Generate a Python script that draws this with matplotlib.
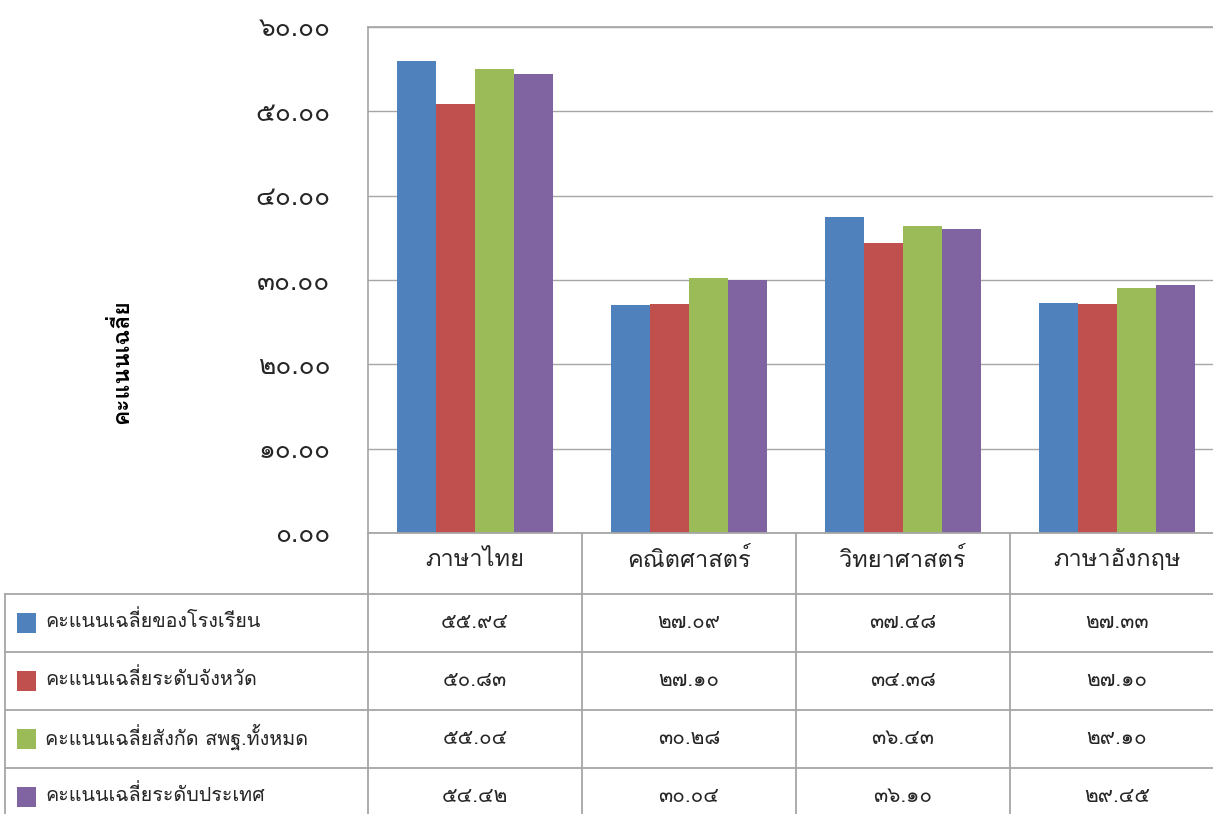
import matplotlib
matplotlib.use("Agg")
import matplotlib.pyplot as plt
from matplotlib import font_manager as fm
from matplotlib.ft2font import FT2Font
from matplotlib.lines import Line2D
from matplotlib.patches import Rectangle
import numpy as np

subjects = ["ภาษาไทย", "คณิตศาสตร์", "วิทยาศาสตร์", "ภาษาอังกฤษ"]
series_names = [
    "คะแนนเฉลี่ยของโรงเรียน",
    "คะแนนเฉลี่ยระดับจังหวัด",
    "คะแนนเฉลี่ยสังกัด สพฐ.ทั้งหมด",
    "คะแนนเฉลี่ยระดับประเทศ",
]
school = [55.94, 27.09, 37.48, 27.33]
province = [50.83, 27.10, 34.38, 27.10]
obec = [55.04, 30.28, 36.43, 29.10]
national = [54.42, 30.04, 36.10, 29.45]
y_ticks = [0, 10, 20, 30, 40, 50, 60]
y_label = "คะแนนเฉลี่ย"

colors = ["#4F81BD", "#C0504D", "#9BBB59", "#8064A2"]
grid_col = "#A6A6A6"
txt_col = "#262626"

THAI_DIGITS = str.maketrans("0123456789", "๐๑๒๓๔๕๖๗๘๙")


def thai_num(v):
    return f"{v:.2f}".translate(THAI_DIGITS)


def find_thai_font():
    # pick any installed font that actually has Thai glyphs
    for f in fm.fontManager.ttflist:
        try:
            cmap = FT2Font(f.fname).get_charmap()
        except Exception:
            continue
        if 0x0E01 in cmap and 0x0E50 in cmap and 0x0E04 in cmap:
            return f.name
    return "DejaVu Sans"


thai_font = find_thai_font()
plt.rcParams["font.family"] = [thai_font, "DejaVu Sans"]
plt.rcParams["font.weight"] = "light"

W, H = 1213, 814
fig = plt.figure(figsize=(W / 100, H / 100), dpi=100)


def fx(x):
    return x / W


def fy(y):
    return 1 - y / H


# plot area in pixel coords
left, right, top, bottom = 368, 1224, 27, 533
ax = fig.add_axes([fx(left), fy(bottom), fx(right - left), fy(top) - fy(bottom)])

all_series = [school, province, obec, national]
n = len(subjects)
x = np.arange(n)
bw = 156 / 214 / 4
for i, vals in enumerate(all_series):
    ax.bar(x - 2 * bw + (i + 0.5) * bw, vals, width=bw, color=colors[i],
           edgecolor="none", zorder=3)

ax.set_xlim(-0.5, n - 0.5)
ax.set_ylim(0, 60)
ax.set_yticks(y_ticks)
ax.set_yticklabels([thai_num(v) for v in y_ticks], fontsize=19, color=txt_col)
ax.tick_params(axis="y", length=0, pad=27)
ax.set_xticks([])
ax.grid(axis="y", color=grid_col, linewidth=1, zorder=0)
for s in ["right", "bottom"]:
    ax.spines[s].set_visible(False)
for s in ["top", "left"]:
    ax.spines[s].set_color(grid_col)
    ax.spines[s].set_linewidth(1.2)

fig.text(fx(120), fy(362), y_label, rotation=90, ha="center", va="center",
         fontsize=16.5, fontweight="bold", color="black")

# data table under the chart
col_w = (right - left) / n
row_top = [533, 594, 652, 710, 768]


def hline(y, x0, x1):
    fig.add_artist(Line2D([fx(x0), fx(x1)], [fy(y), fy(y)], color=grid_col, lw=1.3))


def vline(x0, y0, y1):
    fig.add_artist(Line2D([fx(x0), fx(x0)], [fy(y0), fy(y1)], color=grid_col, lw=1.3))


hline(533, left, right)
for y in row_top[1:]:
    hline(y, 5, right)
vline(5, 594, H)
for j in range(n + 1):
    vline(left + j * col_w, 533, H)

for j, s in enumerate(subjects):
    fig.text(fx(left + (j + 0.5) * col_w), fy(560), s, ha="center", va="center",
             fontsize=17, color=txt_col)

for i, vals in enumerate(all_series):
    yc = row_top[i + 1] + 29
    fig.add_artist(Rectangle((fx(17), fy(yc + 10)), fx(19), fy(yc - 10) - fy(yc + 10),
                             transform=fig.transFigure, facecolor=colors[i],
                             edgecolor="none"))
    fig.text(fx(45), fy(yc - 2), series_names[i], ha="left", va="center",
             fontsize=14.2, color=txt_col)
    for j, v in enumerate(vals):
        fig.text(fx(left + (j + 0.5) * col_w), fy(yc - 1), thai_num(v), ha="center",
                 va="center", fontsize=15, color=txt_col)

fig.savefig("out.png", dpi=100)
